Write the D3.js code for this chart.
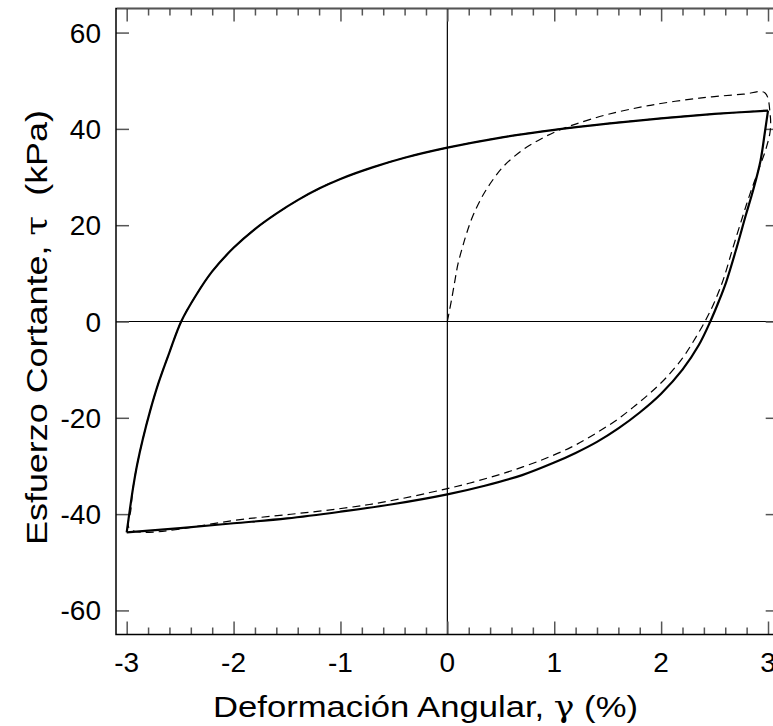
<!DOCTYPE html>
<html>
<head>
<meta charset="utf-8">
<script src="https://cdn.jsdelivr.net/npm/d3@7"></script>
<style>
  body { margin: 0; background: #fff; }
  svg { display: block; font-family: Arial, "Liberation Sans", sans-serif; }
  .greek { font-family: "DejaVu Serif", "Liberation Serif", serif; }
</style>
</head>
<body>
<div id="container"></div>
<script>
// tick values
const xMajorTicks = [-3, -2, -1, 0, 1, 2, 3];
const yMajorTicks = [-60, -40, -20, 0, 20, 40, 60];

// axis titles, split around the greek symbol
const xTitle = ['Deformación Angular, ', 'γ', ' (%)'];
const yTitle = ['Esfuerzo Cortante, ', 'τ', '  (kPa)'];

// solid loop, [strain %, stress kPa]
const solidDown = [
  [3.0, 43.8], [2.97, 39.2], [2.93, 33.4], [2.86, 27.2], [2.79, 21.9], [2.71, 15.6],
  [2.61, 8.3], [2.54, 4.2], [2.46, 0], [2.35, -5.0], [2.2, -10.0], [2.0, -15.0],
  [1.8, -18.9], [1.6, -22.2], [1.4, -25.0], [1.2, -27.3], [1.0, -29.3], [0.7, -31.9],
  [0.35, -34.1], [0, -35.9], [-0.5, -37.9], [-1.0, -39.5], [-1.5, -40.9], [-2.0, -41.9],
  [-2.5, -42.9], [-3.0, -43.8]
];
const solidUp = [
  [-3.0, -43.8], [-2.97, -39.0], [-2.94, -34.5], [-2.90, -29.5], [-2.85, -24.5],
  [-2.78, -18.5], [-2.70, -12.6], [-2.60, -6.4], [-2.49, 0], [-2.35, 5.5], [-2.2, 10.4],
  [-2.0, 15.3], [-1.8, 19.2], [-1.6, 22.4], [-1.4, 25.2], [-1.2, 27.6], [-1.0, 29.6],
  [-0.7, 32.0], [-0.4, 34.0], [0, 36.1], [0.5, 38.2], [1.0, 39.8], [1.5, 41.1],
  [2.0, 42.2], [2.5, 43.1], [3.0, 43.8]
];

// dashed: initial loading, then descending, then ascending
const dashInitial = [
  [0, 0], [0.04, 4.6], [0.07, 8.4], [0.10, 12.0], [0.14, 15.3], [0.18, 18.3],
  [0.24, 22.0], [0.32, 25.7], [0.40, 28.6], [0.52, 32.1], [0.69, 35.4], [0.85, 37.6],
  [1.02, 39.5], [1.2, 41.0], [1.5, 43.0], [1.90, 44.9], [2.36, 46.4], [2.77, 47.2],
  [2.97, 47.5]
];
const dashDown = [
  [2.97, 47.5], [3.02, 43.0], [3.02, 39.5], [2.98, 35.8], [2.92, 32.0], [2.83, 26.4],
  [2.76, 21.6], [2.67, 15.2], [2.58, 8.6], [2.49, 3.6], [2.41, 0], [2.30, -4.2],
  [2.20, -7.6], [2.05, -11.6], [1.90, -14.8], [1.75, -17.6], [1.60, -20.2], [1.45, -22.4],
  [1.30, -24.4], [1.15, -26.2], [0.9, -28.6], [0.6, -31.0], [0.3, -33.0], [0, -34.7],
  [-0.73, -38.0], [-1.85, -40.9], [-2.97, -43.1]
];
const dashUp = [
  [-2.97, -43.1], [-2.96, -39.0], [-2.94, -34.5], [-2.90, -29.5], [-2.85, -24.5],
  [-2.78, -18.5], [-2.70, -12.6], [-2.60, -6.4], [-2.49, 0], [-2.35, 5.5], [-2.2, 10.4],
  [-2.0, 15.3], [-1.8, 19.2], [-1.6, 22.4], [-1.4, 25.2], [-1.2, 27.6], [-1.0, 29.6],
  [-0.7, 32.0], [-0.4, 34.0], [0, 36.1], [0.5, 38.2], [1.0, 39.8], [1.5, 41.1],
  [2.0, 42.2], [2.5, 43.1], [3.0, 43.8]
];

const width = 773;
const height = 726;
const plotLeft = 116;
const plotRight = 778.7;
const plotTop = 8.5;
const plotBottom = 634.5;
const majorLen = 13;
const minorLen = 7;

const svg = d3.select('#container')
              .append('svg')
              .attr('width', width)
              .attr('height', height);

const x = d3.scaleLinear().domain([-3.1, 3.1]).range([plotLeft, plotRight]);
const y = d3.scaleLinear().domain([-65, 65]).range([plotBottom, plotTop]);

const xMinorTicks = d3.range(-3, 3.001, 0.2)
                      .map((d) => Math.round(d * 10) / 10)
                      .filter((d) => !xMajorTicks.includes(d));

// zero lines
svg.append('line')
   .attr('x1', x(0)).attr('x2', x(0))
   .attr('y1', plotTop).attr('y2', plotBottom)
   .attr('stroke', '#000').attr('stroke-width', 1.2);
svg.append('line')
   .attr('x1', plotLeft).attr('x2', plotRight)
   .attr('y1', y(0)).attr('y2', y(0))
   .attr('stroke', '#000').attr('stroke-width', 1.2);

// inward ticks: bottom and top (x), left and right (y)
const tickColor = '#555';
const addAxis = (g, axis) => {
  g.call(axis);
  g.select('.domain').remove();
  g.selectAll('.tick line').attr('stroke', tickColor).attr('stroke-width', 1.5);
  g.selectAll('text').remove();
};
svg.append('g').attr('transform', `translate(0,${plotBottom})`)
   .call((g) => addAxis(g, d3.axisTop(x).tickValues(xMajorTicks).tickSize(majorLen)));
svg.append('g').attr('transform', `translate(0,${plotBottom})`)
   .call((g) => addAxis(g, d3.axisTop(x).tickValues(xMinorTicks).tickSize(minorLen)));
svg.append('g').attr('transform', `translate(0,${plotTop})`)
   .call((g) => addAxis(g, d3.axisBottom(x).tickValues(xMajorTicks).tickSize(majorLen)));
svg.append('g').attr('transform', `translate(0,${plotTop})`)
   .call((g) => addAxis(g, d3.axisBottom(x).tickValues(xMinorTicks).tickSize(minorLen)));
svg.append('g').attr('transform', `translate(${plotLeft},0)`)
   .call((g) => addAxis(g, d3.axisRight(y).tickValues(yMajorTicks).tickSize(majorLen)));
svg.append('g').attr('transform', `translate(${plotRight},0)`)
   .call((g) => addAxis(g, d3.axisLeft(y).tickValues(yMajorTicks).tickSize(majorLen)));

// frame: top edge a little lighter, like the ticks
svg.append('rect')
   .attr('x', plotLeft).attr('y', plotTop)
   .attr('width', plotRight - plotLeft).attr('height', plotBottom - plotTop)
   .attr('fill', 'none')
   .attr('stroke', '#000')
   .attr('stroke-width', 1.5);
svg.append('line')
   .attr('x1', plotLeft + 1).attr('x2', plotRight)
   .attr('y1', plotTop).attr('y2', plotTop)
   .attr('stroke', '#555')
   .attr('stroke-width', 1.5);

// tick labels
svg.append('g')
   .selectAll('text')
   .data(xMajorTicks)
   .enter()
   .append('text')
   .attr('x', (d) => x(d))
   .attr('y', 672)
   .attr('text-anchor', 'middle')
   .attr('font-size', 28)
   .text((d) => d);
svg.append('g')
   .selectAll('text')
   .data(yMajorTicks)
   .enter()
   .append('text')
   .attr('x', 101)
   .attr('y', (d) => y(d) + 10)
   .attr('text-anchor', 'end')
   .attr('font-size', 28)
   .text((d) => d);

// axis titles
const xLabel = svg.append('text')
                  .attr('x', 213)
                  .attr('y', 717)
                  .attr('font-size', 30)
                  .attr('textLength', 425)
                  .attr('lengthAdjust', 'spacingAndGlyphs')
                  .style('white-space', 'pre');
xLabel.selectAll('tspan')
      .data(xTitle)
      .enter()
      .append('tspan')
      .attr('class', (d, i) => (i === 1 ? 'greek' : null))
      .text((d) => d);

const yLabel = svg.append('text')
                  .attr('transform', 'translate(47,545) rotate(-90)')
                  .attr('font-size', 30)
                  .attr('textLength', 435)
                  .attr('lengthAdjust', 'spacingAndGlyphs')
                  .style('white-space', 'pre');
yLabel.selectAll('tspan')
      .data(yTitle)
      .enter()
      .append('tspan')
      .attr('class', (d, i) => (i === 1 ? 'greek' : null))
      .text((d) => d);

// curves
const line = d3.line()
               .x((d) => x(d[0]))
               .y((d) => y(d[1]))
               .curve(d3.curveCatmullRom.alpha(0.5));

const dashed = dashInitial.concat(dashDown.slice(1), dashUp.slice(1));
svg.append('path')
   .attr('d', line(dashed))
   .attr('fill', 'none')
   .attr('stroke', '#000')
   .attr('stroke-width', 1.2)
   .attr('stroke-dasharray', '8,5');

svg.append('path')
   .attr('d', line(solidDown))
   .attr('fill', 'none')
   .attr('stroke', '#000')
   .attr('stroke-width', 2.2);
svg.append('path')
   .attr('d', line(solidUp))
   .attr('fill', 'none')
   .attr('stroke', '#000')
   .attr('stroke-width', 2.2);
</script>
</body>
</html>
